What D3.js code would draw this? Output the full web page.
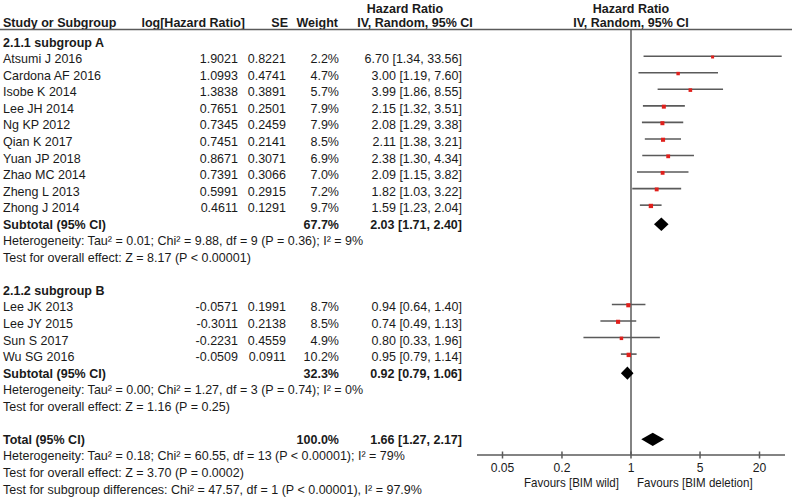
<!DOCTYPE html>
<html><head><meta charset="utf-8">
<script src="https://cdn.jsdelivr.net/npm/d3@7"></script>
<style>
html,body{margin:0;padding:0;background:#fff;}
svg{display:block;font-family:"Liberation Sans",Arial,sans-serif;}
</style></head><body>
<svg id="chart" width="800" height="503"></svg>
<script>
// ---------- DATA ----------
const studiesA = ["Atsumi J 2016","Cardona AF 2016","Isobe K 2014","Lee JH 2014","Ng KP 2012","Qian K 2017","Yuan JP 2018","Zhao MC 2014","Zheng L 2013","Zhong J 2014"];
const logHRA = ["1.9021","1.0993","1.3838","0.7651","0.7345","0.7451","0.8671","0.7391","0.5991","0.4611"];
const seA = ["0.8221","0.4741","0.3891","0.2501","0.2459","0.2141","0.3071","0.3066","0.2915","0.1291"];
const weightA = [2.2,4.7,5.7,7.9,7.9,8.5,6.9,7.0,7.2,9.7];
const hrA = [6.70,3.00,3.99,2.15,2.08,2.11,2.38,2.09,1.82,1.59];
const loA = [1.34,1.19,1.86,1.32,1.29,1.38,1.30,1.15,1.03,1.23];
const hiA = [33.56,7.60,8.55,3.51,3.38,3.21,4.34,3.82,3.22,2.04];
const subtotalA = {weight:67.7, hr:2.03, lo:1.71, hi:2.40};

const studiesB = ["Lee JK 2013","Lee JY 2015","Sun S 2017","Wu SG 2016"];
const logHRB = ["-0.0571","-0.3011","-0.2231","-0.0509"];
const seB = ["0.1991","0.2138","0.4559","0.0911"];
const weightB = [8.7,8.5,4.9,10.2];
const hrB = [0.94,0.74,0.80,0.95];
const loB = [0.64,0.49,0.33,0.79];
const hiB = [1.40,1.13,1.96,1.14];
const subtotalB = {weight:32.3, hr:0.92, lo:0.79, hi:1.06};

const total = {weight:100.0, hr:1.66, lo:1.27, hi:2.17};

const hetA = "Heterogeneity: Tau² = 0.01; Chi² = 9.88, df = 9 (P = 0.36); I² = 9%";
const effA = "Test for overall effect: Z = 8.17 (P < 0.00001)";
const hetB = "Heterogeneity: Tau² = 0.00; Chi² = 1.27, df = 3 (P = 0.74); I² = 0%";
const effB = "Test for overall effect: Z = 1.16 (P = 0.25)";
const hetT = "Heterogeneity: Tau² = 0.18; Chi² = 60.55, df = 13 (P < 0.00001); I² = 79%";
const effT = "Test for overall effect: Z = 3.70 (P = 0.0002)";
const subDiff = "Test for subgroup differences: Chi² = 47.57, df = 1 (P < 0.00001), I² = 97.9%";

const tickValues = [0.05, 0.2, 1, 5, 20];
const tickLabels = ["0.05","0.2","1","5","20"];
const favLeft = "Favours [BIM wild]";
const favRight = "Favours [BIM deletion]";

// ---------- LAYOUT ----------
const svg = d3.select("#chart");
const txt = "#1a1a1a", grey = "#5a5a5a";
const FS = 13.2, SX = 0.948;
const rowY = i => 63.2 + 16.55 * i;      // text baseline of row i
const markOff = -7;                       // mark center relative to baseline
const colStudy = 3, colLog = 238, colSE = 286, colW = 339, colCI = 462;

const x = d3.scaleLog().domain([0.05, 20]).range([502.5, 759.5]);
const axisY = 455, nullTop = 29.5;
const fmt2 = d3.format(".2f");
const ciText = (h,l,u) => `${fmt2(h)} [${fmt2(l)}, ${fmt2(u)}]`;
const sq = d3.scaleLinear().domain([2.2, 10.2]).range([3.0, 4.4]);

function text(xp, y, s, opts={}) {
  svg.append("text").attr("transform", `translate(${xp},${y}) scale(${opts.sx || SX},1)`).text(s)
    .attr("font-size", opts.size || FS)
    .attr("font-weight", opts.bold ? "bold" : "normal")
    .attr("text-anchor", opts.anchor || "start")
    .attr("fill", txt);
}

// header
text(405, 13, "Hazard Ratio", {bold:true, anchor:"middle"});
text(631, 13, "Hazard Ratio", {bold:true, anchor:"middle"});
text(3, 27, "Study or Subgroup", {bold:true});
text(245, 27, "log[Hazard Ratio]", {bold:true, anchor:"end"});
text(288, 27, "SE", {bold:true, anchor:"end"});
text(338, 27, "Weight", {bold:true, anchor:"end"});
text(415, 27, "IV, Random, 95% CI", {bold:true, anchor:"middle"});
text(631, 27, "IV, Random, 95% CI", {bold:true, anchor:"middle"});
svg.append("line").attr("x1",0).attr("x2",792).attr("y1",nullTop).attr("y2",nullTop)
  .attr("stroke",grey).attr("stroke-width",1.6);

// null line
svg.append("line").attr("x1",x(1)).attr("x2",x(1)).attr("y1",nullTop).attr("y2",axisY)
  .attr("stroke",grey).attr("stroke-width",1.5);

function studyRows(names, logs, ses, ws, hrs, los, his, start) {
  names.forEach((n,i) => {
    const y = rowY(start + i);
    text(colStudy, y, n);
    text(colLog, y, logs[i], {anchor:"end"});
    text(colSE, y, ses[i], {anchor:"end"});
    text(colW, y, d3.format(".1f")(ws[i]) + "%", {anchor:"end"});
    text(colCI, y, ciText(hrs[i], los[i], his[i]), {anchor:"end"});
    const my = y + markOff;
    svg.append("line").attr("x1", x(los[i])).attr("x2", x(his[i]))
      .attr("y1", my).attr("y2", my).attr("stroke", grey).attr("stroke-width", 1.6);
    const s = sq(ws[i]);
    svg.append("rect").attr("x", x(hrs[i]) - s/2).attr("y", my - s/2 + 0.8)
      .attr("width", s).attr("height", s).attr("fill", "#e0201c");
  });
}
function diamond(d, y) {
  const my = y + markOff + 2.5, h = 6.7;
  svg.append("path").attr("d",
    `M${x(d.lo)},${my} L${x(d.hr)},${my-h} L${x(d.hi)},${my} L${x(d.hr)},${my+h} Z`)
    .attr("fill", "#000");
}
function summaryRow(label, d, i) {
  const y = rowY(i);
  text(colStudy, y, label, {bold:true});
  text(colW, y, d3.format(".1f")(d.weight) + "%", {bold:true, anchor:"end"});
  text(colCI, y, ciText(d.hr, d.lo, d.hi), {bold:true, anchor:"end"});
  diamond(d, y);
}

text(colStudy, rowY(-1), "2.1.1 subgroup A", {bold:true});
studyRows(studiesA, logHRA, seA, weightA, hrA, loA, hiA, 0);
summaryRow("Subtotal (95% CI)", subtotalA, 10);
text(colStudy, rowY(11), hetA);
text(colStudy, rowY(12), effA);

text(colStudy, rowY(14), "2.1.2 subgroup B", {bold:true});
studyRows(studiesB, logHRB, seB, weightB, hrB, loB, hiB, 15);
summaryRow("Subtotal (95% CI)", subtotalB, 19);
text(colStudy, rowY(20), hetB);
text(colStudy, rowY(21), effB);

summaryRow("Total (95% CI)", total, 23);
text(colStudy, rowY(24), hetT);
text(colStudy, rowY(25), effT);
text(colStudy, rowY(26), subDiff);

// axis
const axisG = svg.append("g").attr("transform", `translate(0,${axisY})`);
axisG.append("line").attr("x1", 477).attr("x2", 785).attr("y1",0).attr("y2",0)
  .attr("stroke", grey).attr("stroke-width", 1.5);
tickValues.forEach((t,i) => {
  axisG.append("line").attr("x1", x(t)).attr("x2", x(t)).attr("y1",-3.5).attr("y2",3.5)
    .attr("stroke", grey).attr("stroke-width", 1.5);
});
tickValues.forEach((t,i) => {
  text(x(t), axisY + 17, tickLabels[i], {anchor:"middle", size:12.8});
});
text(x(1) - 12, axisY + 32, favLeft, {anchor:"end", size:12.2});
text(x(1) + 6, axisY + 32, favRight, {size:12.2});
</script>
</body></html>
